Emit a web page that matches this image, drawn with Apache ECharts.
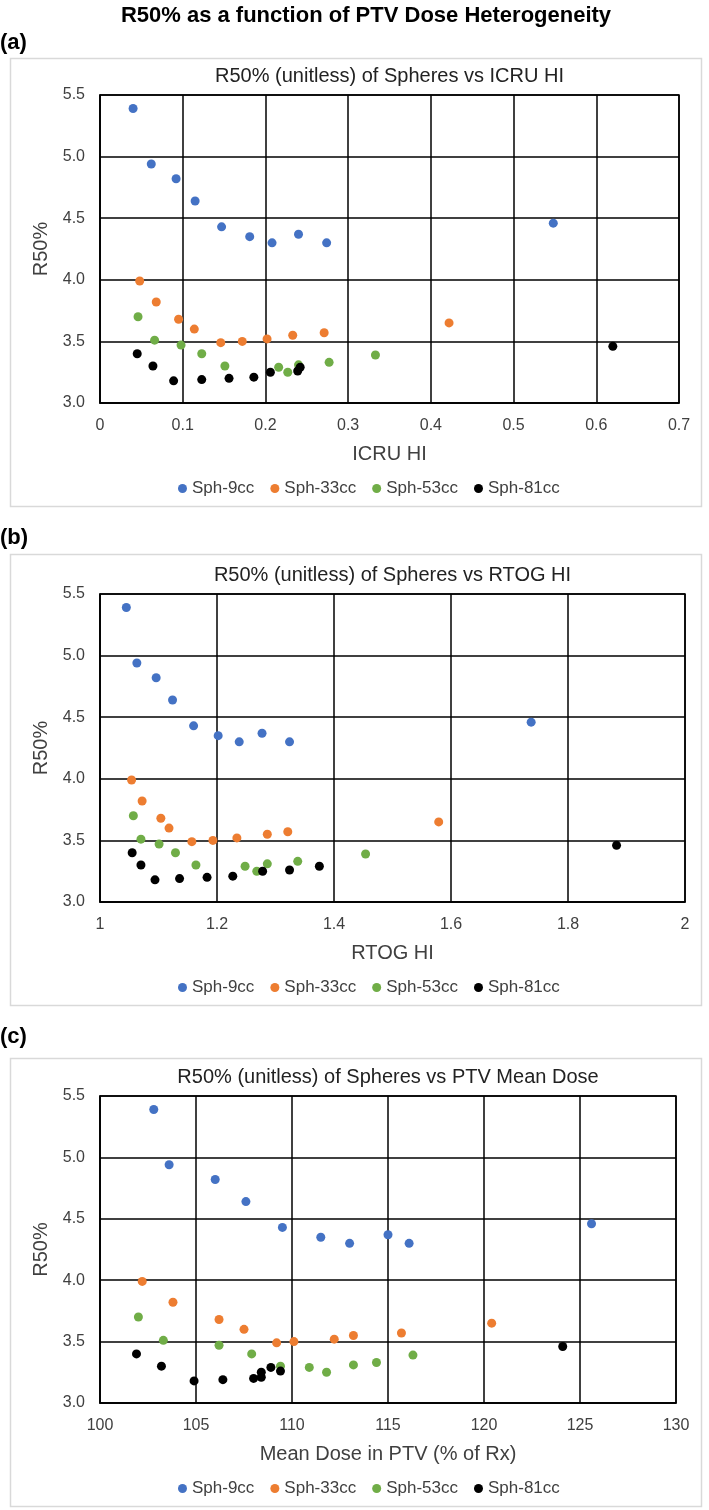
<!DOCTYPE html>
<html>
<head>
<meta charset="utf-8">
<title>R50% vs PTV Dose Heterogeneity</title>
<script src="https://cdn.jsdelivr.net/npm/echarts@6.0.0/dist/echarts.min.js"></script>
<style>
  html, body { margin: 0; padding: 0; background: #fff; }
  #main { width: 709px; height: 1510px; }
</style>
</head>
<body>
<div id="main"></div>
<script>
// series names + colours (Office palette)
var seriesNames = ['Sph-9cc', 'Sph-33cc', 'Sph-53cc', 'Sph-81cc'];
var seriesColors = ['#4472C4', '#ED7D31', '#70AD47', '#000000'];

// R50% (same for all three panels)
var r50_9 = [5.39, 4.94, 4.82, 4.64, 4.43, 4.35, 4.30, 4.37, 4.30, 4.46];
var r50_33 = [3.99, 3.82, 3.68, 3.60, 3.49, 3.50, 3.52, 3.55, 3.57, 3.65];
var r50_53 = [3.70, 3.51, 3.47, 3.40, 3.30, 3.29, 3.25, 3.31, 3.33, 3.39];
var r50_81 = [3.40, 3.30, 3.18, 3.19, 3.20, 3.21, 3.25, 3.26, 3.29, 3.46];

// (a) ICRU HI
var icru_9 = [0.040, 0.062, 0.092, 0.115, 0.147, 0.181, 0.208, 0.240, 0.274, 0.548];
var icru_33 = [0.048, 0.068, 0.095, 0.114, 0.146, 0.172, 0.202, 0.233, 0.271, 0.422];
var icru_53 = [0.046, 0.066, 0.098, 0.123, 0.151, 0.216, 0.227, 0.240, 0.277, 0.333];
var icru_81 = [0.045, 0.064, 0.089, 0.123, 0.156, 0.186, 0.206, 0.239, 0.242, 0.620];

// (b) RTOG HI
var rtog_9 = [1.045, 1.063, 1.096, 1.124, 1.160, 1.202, 1.238, 1.277, 1.324, 1.737];
var rtog_33 = [1.054, 1.072, 1.104, 1.118, 1.157, 1.193, 1.234, 1.286, 1.321, 1.579];
var rtog_53 = [1.057, 1.070, 1.101, 1.129, 1.164, 1.248, 1.268, 1.286, 1.338, 1.454];
var rtog_81 = [1.055, 1.070, 1.094, 1.136, 1.183, 1.227, 1.278, 1.324, 1.375, 1.883];

// (c) mean dose in PTV (% of Rx)
var dose_9 = [102.8, 103.6, 106.0, 107.6, 109.5, 111.5, 113.0, 115.0, 116.1, 125.6];
var dose_33 = [102.2, 103.8, 106.2, 107.5, 109.2, 110.1, 112.2, 113.2, 115.7, 120.4];
var dose_53 = [102.0, 103.3, 106.2, 107.9, 109.4, 110.9, 111.8, 113.2, 114.4, 116.3];
var dose_81 = [101.9, 103.2, 104.9, 106.4, 108.0, 108.4, 108.4, 109.4, 108.9, 124.1];

// tick labels
var yTicks = [3.0, 3.5, 4.0, 4.5, 5.0, 5.5];
var icruTicks = [0, 0.1, 0.2, 0.3, 0.4, 0.5, 0.6, 0.7];
var rtogTicks = [1, 1.2, 1.4, 1.6, 1.8, 2];
var doseTicks = [100, 105, 110, 115, 120, 125, 130];

var r50All = [r50_9, r50_33, r50_53, r50_81];

var font = '"Liberation Sans", Arial, sans-serif';
var textColor = '#404040';

// panel layout
var panels = [
    { tag: '(a)', title: 'R50% (unitless) of Spheres vs ICRU HI', xName: 'ICRU HI',
      xs: [icru_9, icru_33, icru_53, icru_81], ticks: icruTicks,
      grid: { left: 100, top: 95, width: 579, height: 308 },
      boxTop: 58, boxBottom: 506, tagY: 32, legendTop: 480 },
    { tag: '(b)', title: 'R50% (unitless) of Spheres vs RTOG HI', xName: 'RTOG HI',
      xs: [rtog_9, rtog_33, rtog_53, rtog_81], ticks: rtogTicks,
      grid: { left: 100, top: 594, width: 585, height: 308 },
      boxTop: 554, boxBottom: 1005, tagY: 527, legendTop: 979 },
    { tag: '(c)', title: 'R50% (unitless) of Spheres vs PTV Mean Dose', xName: 'Mean Dose in PTV (% of Rx)',
      xs: [dose_9, dose_33, dose_53, dose_81], ticks: doseTicks,
      grid: { left: 100, top: 1096, width: 576, height: 307 },
      boxTop: 1058, boxBottom: 1506, tagY: 1026, legendTop: 1480 }
];

function pairs(xs, ys) {
    var out = [];
    for (var i = 0; i < xs.length; i++) out.push([xs[i], ys[i]]);
    return out;
}

var titles = [{
    text: 'R50% as a function of PTV Dose Heterogeneity',
    left: 366, top: 5, textAlign: 'center', padding: 0,
    textStyle: { fontFamily: font, fontSize: 22, fontWeight: 'bold', color: '#000' }
}];
var grids = [], xAxes = [], yAxes = [], legends = [], series = [], graphics = [];

panels.forEach(function (p, k) {
    var g = p.grid;
    grids.push({ left: g.left, top: g.top, width: g.width, height: g.height,
        show: true, borderColor: '#000', borderWidth: 1.5 });

    titles.push({
        text: p.title, left: g.left + g.width / 2, top: g.top - 29, textAlign: 'center', padding: 0,
        textStyle: { fontFamily: font, fontSize: 20, fontWeight: 'normal', color: '#222' }
    });

    var t = p.ticks;
    xAxes.push({
        type: 'value', gridIndex: k,
        min: t[0], max: t[t.length - 1], interval: +(t[1] - t[0]).toFixed(4),
        name: p.xName, nameLocation: 'middle', nameGap: 41,
        nameTextStyle: { fontFamily: font, fontSize: 20, color: textColor },
        axisLine: { show: true, lineStyle: { color: '#000', width: 1.5 } },
        axisTick: { show: false },
        axisLabel: { fontFamily: font, fontSize: 16, color: textColor, margin: 15 },
        splitLine: { show: true, lineStyle: { color: '#000', width: 1.5 } }
    });
    yAxes.push({
        type: 'value', gridIndex: k,
        min: yTicks[0], max: yTicks[yTicks.length - 1], interval: yTicks[1] - yTicks[0],
        name: 'R50%', nameLocation: 'middle', nameGap: 40,
        nameTextStyle: { fontFamily: font, fontSize: 20, color: textColor },
        axisLine: { show: true, lineStyle: { color: '#000', width: 1.5 } },
        axisTick: { show: false },
        axisLabel: { fontFamily: font, fontSize: 16, color: textColor, margin: 15,
            formatter: function (v) { return v.toFixed(1); } },
        splitLine: { show: true, lineStyle: { color: '#000', width: 1.5 } }
    });

    legends.push({
        data: seriesNames, left: 178, top: p.legendTop, orient: 'horizontal',
        icon: 'circle', itemWidth: 9, itemHeight: 9, itemGap: 16, padding: 0,
        textStyle: { fontFamily: font, fontSize: 17, color: textColor }
    });

    seriesNames.forEach(function (name, s) {
        series.push({
            name: name, type: 'scatter', xAxisIndex: k, yAxisIndex: k,
            symbolSize: 9, itemStyle: { color: seriesColors[s], opacity: 1 },
            data: pairs(p.xs[s], r50All[s])
        });
    });

    // panel frame + (a)/(b)/(c) tag
    graphics.push({
        type: 'rect', shape: { x: 10.5, y: p.boxTop + 0.5, width: 691, height: p.boxBottom - p.boxTop },
        style: { fill: 'none', stroke: '#d9d9d9', lineWidth: 1.5 }, silent: true
    });
    graphics.push({
        type: 'text', x: 0, y: p.tagY,
        style: { text: p.tag, font: 'bold 22px ' + font, fill: '#000' }, silent: true
    });
});

var chart = echarts.init(document.getElementById('main'));
chart.setOption({
    animation: false,
    title: titles,
    grid: grids,
    xAxis: xAxes,
    yAxis: yAxes,
    legend: legends,
    series: series,
    graphic: graphics
});
</script>
</body>
</html>
